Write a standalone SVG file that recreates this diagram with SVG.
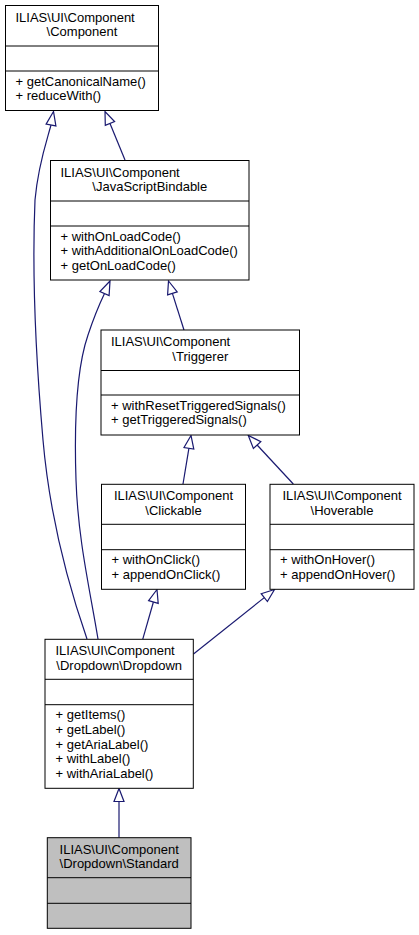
<svg xmlns="http://www.w3.org/2000/svg" width="419" height="935" viewBox="0 0 419 935">
<style>
.box{fill:#ffffff;stroke:#000000;stroke-width:1}
.cur{fill:#bfbfbf;stroke:#000000;stroke-width:1}
.sep{stroke:#000000;stroke-width:1;fill:none}
text{font-family:"Liberation Sans",Arial,sans-serif;font-size:13px;fill:#000000}
.c{text-anchor:middle}
.edge{fill:none;stroke:#191970;stroke-width:1.2}
.ah{fill:#ffffff;stroke:#191970;stroke-width:1.2}
</style>
<rect width="419" height="935" fill="#ffffff"/>
<g id="connectors">
<path class="edge" d="M87,639 C70,590 50,520 43,440 C36,360 32,270 35,200 C38,165 47,140 51,125"/>
<polygon class="ah" points="53.5,111.5 46.1,124.1 55.9,125.9"/>
<path class="edge" d="M98,639 C90,590 78,540 76,480 C74,420 76,370 88,335 C93,320 99,305 104.5,293.5"/>
<polygon class="ah" points="110,281 99.9,291.5 109.1,295.5"/>
<path class="edge" d="M125,160 L110,123.5"/>
<polygon class="ah" points="105,111.5 105.3,125.4 114.6,121.6"/>
<path class="edge" d="M184,330 L172.4,293.4"/>
<polygon class="ah" points="168.5,281 167.6,294.9 177.2,291.9"/>
<path class="edge" d="M183,484 L188.9,448.3"/>
<polygon class="ah" points="191,435.5 184,447.5 193.8,449.1"/>
<path class="edge" d="M293.3,484 L257.1,445"/>
<polygon class="ah" points="248.3,435.5 253.4,448.4 260.8,441.6"/>
<path class="edge" d="M142.7,639.3 L153.4,602"/>
<polygon class="ah" points="157,589.5 148.6,600.6 158.2,603.4"/>
<path class="edge" d="M193.5,654 L264.3,597.6"/>
<polygon class="ah" points="274.5,589.5 261.2,593.7 267.4,601.5"/>
<path class="edge" d="M119,837.7 L119,801.5"/>
<polygon class="ah" points="119,788.5 114,801.5 124,801.5"/>
</g>
<g id="node-component">
<rect class="box" x="5.5" y="5.5" width="153" height="105"/>
<line class="sep" x1="5.5" y1="46" x2="158.5" y2="46"/>
<line class="sep" x1="5.5" y1="71" x2="158.5" y2="71"/>
<text x="15.5" y="21.5">ILIAS\UI\Component</text>
<text class="c" x="82" y="36.2">\Component</text>
<text x="15.5" y="85.6">+ getCanonicalName()</text>
<text x="15.5" y="100.3">+ reduceWith()</text>
</g>
<g id="node-javascriptbindable">
<rect class="box" x="50.5" y="160.5" width="198.5" height="119.5"/>
<line class="sep" x1="50.5" y1="201" x2="249" y2="201"/>
<line class="sep" x1="50.5" y1="226" x2="249" y2="226"/>
<text x="60.5" y="176.5">ILIAS\UI\Component</text>
<text class="c" x="149.8" y="191.2">\JavaScriptBindable</text>
<text x="60.5" y="240.5">+ withOnLoadCode()</text>
<text x="60.5" y="255.2">+ withAdditionalOnLoadCode()</text>
<text x="60.5" y="269.9">+ getOnLoadCode()</text>
</g>
<g id="node-triggerer">
<rect class="box" x="101" y="330" width="198.5" height="105"/>
<line class="sep" x1="101" y1="370.5" x2="299.5" y2="370.5"/>
<line class="sep" x1="101" y1="395" x2="299.5" y2="395"/>
<text x="111" y="346">ILIAS\UI\Component</text>
<text class="c" x="200.3" y="360.7">\Triggerer</text>
<text x="111" y="409.6">+ withResetTriggeredSignals()</text>
<text x="111" y="424.3">+ getTriggeredSignals()</text>
</g>
<g id="node-clickable">
<rect class="box" x="101.5" y="484.3" width="144" height="105"/>
<line class="sep" x1="101.5" y1="524.3" x2="245.5" y2="524.3"/>
<line class="sep" x1="101.5" y1="549.7" x2="245.5" y2="549.7"/>
<text class="c" x="173.5" y="500.3">ILIAS\UI\Component</text>
<text class="c" x="173.5" y="515">\Clickable</text>
<text x="111.5" y="564.3">+ withOnClick()</text>
<text x="111.5" y="579">+ appendOnClick()</text>
</g>
<g id="node-hoverable">
<rect class="box" x="270" y="484.3" width="144" height="105"/>
<line class="sep" x1="270" y1="524.3" x2="414" y2="524.3"/>
<line class="sep" x1="270" y1="549.7" x2="414" y2="549.7"/>
<text class="c" x="342" y="500.3">ILIAS\UI\Component</text>
<text class="c" x="342" y="515">\Hoverable</text>
<text x="280" y="564.3">+ withOnHover()</text>
<text x="280" y="579">+ appendOnHover()</text>
</g>
<g id="node-dropdown">
<rect class="box" x="45" y="639.3" width="148.3" height="149"/>
<line class="sep" x1="45" y1="679.3" x2="193.3" y2="679.3"/>
<line class="sep" x1="45" y1="704.7" x2="193.3" y2="704.7"/>
<text x="55.5" y="655.3">ILIAS\UI\Component</text>
<text class="c" x="119.2" y="670">\Dropdown\Dropdown</text>
<text x="55.5" y="719.3">+ getItems()</text>
<text x="55.5" y="734">+ getLabel()</text>
<text x="55.5" y="748.7">+ getAriaLabel()</text>
<text x="55.5" y="763.4">+ withLabel()</text>
<text x="55.5" y="778.1">+ withAriaLabel()</text>
</g>
<g id="node-standard">
<rect class="cur" x="47.3" y="837.7" width="143.7" height="90.6"/>
<line class="sep" x1="47.3" y1="877.7" x2="191" y2="877.7"/>
<line class="sep" x1="47.3" y1="903.3" x2="191" y2="903.3"/>
<text class="c" x="119.2" y="853.7">ILIAS\UI\Component</text>
<text class="c" x="119.2" y="868.4">\Dropdown\Standard</text>
</g>
</svg>
